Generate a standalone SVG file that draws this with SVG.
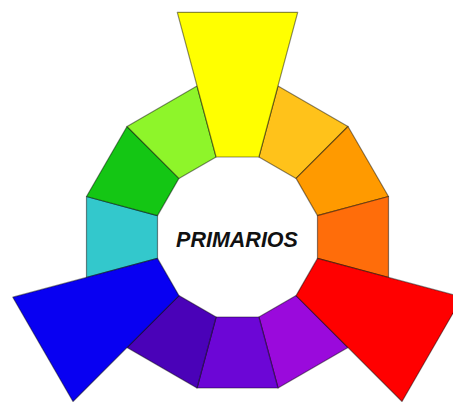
<svg xmlns="http://www.w3.org/2000/svg" width="453" height="402" viewBox="0 0 453 402">
<style>
.seg{stroke:#000;stroke-opacity:0.45;stroke-width:1.2;stroke-linejoin:round}
.lbl{font-family:"Liberation Sans",Arial,sans-serif;font-weight:bold;font-style:italic;font-size:21.5px;fill:#111;text-anchor:middle}
</style>
<rect width="453" height="402" fill="#ffffff"/>
<g id="wheel">
<g id="light-orange"><polygon class="seg" fill="#FFC21A" points="296.1,178.4 258.9,157 278,86 348,126.5"/></g>
<g id="orange"><polygon class="seg" fill="#FF9A00" points="317.5,215.6 296.1,178.4 348,126.5 388.5,196.5"/></g>
<g id="dark-orange"><polygon class="seg" fill="#FF6D0A" points="317.5,258.4 317.5,215.6 388.5,196.5 388.5,277.5"/></g>
<g id="purple"><polygon class="seg" fill="#9A0ADC" points="258.9,317 296.1,295.6 348,347.5 278,388"/></g>
<g id="violet"><polygon class="seg" fill="#6C06D6" points="216.1,317 258.9,317 278,388 197,388"/></g>
<g id="indigo"><polygon class="seg" fill="#4A02B8" points="178.9,295.6 216.1,317 197,388 127,347.5"/></g>
<g id="cyan"><polygon class="seg" fill="#33C8CC" points="157.5,215.6 157.5,258.4 86.5,277.5 86.5,196.5"/></g>
<g id="green"><polygon class="seg" fill="#14C614" points="178.9,178.4 157.5,215.6 86.5,196.5 127,126.5"/></g>
<g id="light-green"><polygon class="seg" fill="#8EF52A" points="216.1,157 178.9,178.4 127,126.5 197,86"/></g>
<g id="yellow"><polygon class="seg" fill="#FFFF00" points="216.1,157 258.9,157 297.7,12.3 177.3,12.3"/></g>
<g id="red"><polygon class="seg" fill="#FF0000" points="296.1,295.6 317.5,258.4 462.2,297.2 402,401.5"/></g>
<g id="blue"><polygon class="seg" fill="#0800F2" points="157.5,258.4 178.9,295.6 73,401.5 12.8,297.2"/></g>
</g>
<g id="label"><text class="lbl" x="237" y="247">PRIMARIOS</text></g>
</svg>
